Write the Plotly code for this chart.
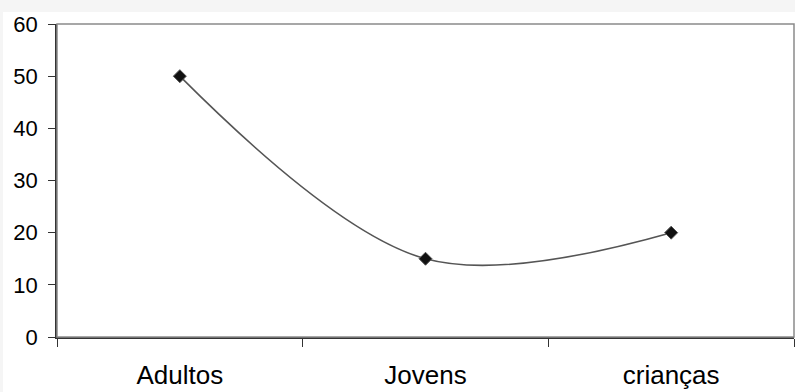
import plotly.graph_objects as go

# Data
categories = ["Adultos", "Jovens", "crianças"]
values = [50, 15, 20]
y_ticks = [0, 10, 20, 30, 40, 50, 60]

W, H = 795, 392
ML, MR, MT, MB = 57, 1, 24, 55

fig = go.Figure()
fig.add_trace(go.Scatter(
    x=categories,
    y=values,
    mode="lines+markers",
    line=dict(color="#555555", width=1.6, shape="spline", smoothing=1),
    marker=dict(symbol="diamond", size=10, color="#111111",
                line=dict(color="#555555", width=1)),
    showlegend=False,
))

pw = W - ML - MR
ph = H - MT - MB

fig.update_layout(
    width=W, height=H,
    margin=dict(l=ML, r=MR, t=MT, b=MB),
    paper_bgcolor="#f5f5f5",
    plot_bgcolor="white",
    font=dict(family="Liberation Sans, Arial, sans-serif", color="black"),
    shapes=[
        # white chart-area background inside the light grey page
        dict(type="rect", xref="paper", yref="paper", layer="below",
             x0=-(ML - 3) / pw, x1=1 + MR / pw,
             y0=-MB / ph, y1=1 + (MT - 12) / ph,
             fillcolor="white", line=dict(width=0)),
        # plot frame
        dict(type="rect", xref="paper", yref="paper", layer="above",
             x0=0, x1=1, y0=0, y1=1,
             line=dict(color="#8a8a8a", width=1.5)),
    ],
)

fig.update_xaxes(
    type="category",
    range=[-0.5, 2.5],
    tickson="boundaries",
    ticks="outside", ticklen=8, tickcolor="#333333", tickwidth=1,
    showline=True, linecolor="#333333", linewidth=1.5,
    showgrid=False, zeroline=False,
    tickfont=dict(size=26, color="black"),
    ticklabelstandoff=14,
)
fig.update_yaxes(
    range=[0, 60],
    tickvals=y_ticks,
    ticks="outside", ticklen=7, tickcolor="#333333", tickwidth=1,
    showline=True, linecolor="#333333", linewidth=1.5,
    showgrid=False, zeroline=False,
    tickfont=dict(size=22, color="black"),
    ticklabelstandoff=6,
)

fig.write_html("out.html")
